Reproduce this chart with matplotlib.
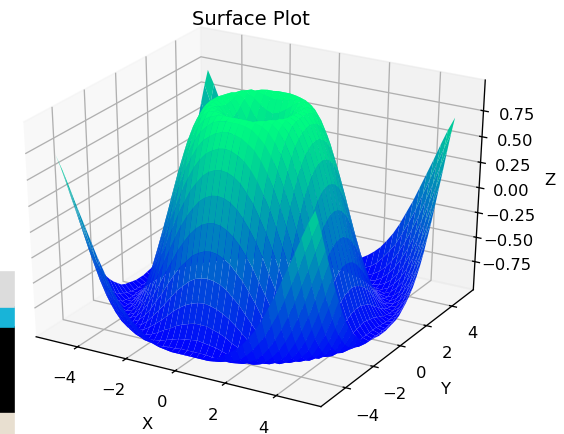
import numpy as np
import matplotlib
matplotlib.use("Agg")
import matplotlib.pyplot as plt
from matplotlib.patches import Rectangle

# Grid positions along x and y
grid_vals = np.arange(-5, 5.25, 0.25)
z_ticks = [-0.75, -0.50, -0.25, 0.00, 0.25, 0.50, 0.75]

# Surface heights, for one corner of the plot.
# Row i, column j: distance i and j grid steps from the centre (j <= i).
z_rows = [
    [0.00],
    [0.25, 0.35],
    [0.48, 0.53, 0.65],
    [0.68, 0.71, 0.78, 0.87],
    [0.84, 0.86, 0.90, 0.95, 0.99],
    [0.95, 0.96, 0.97, 0.99, 1.00, 0.98],
    [1.00, 1.00, 1.00, 0.99, 0.97, 0.93, 0.85],
    [0.98, 0.98, 0.97, 0.95, 0.90, 0.84, 0.74, 0.62],
    [0.91, 0.90, 0.88, 0.84, 0.79, 0.71, 0.60, 0.47, 0.31],
    [0.78, 0.77, 0.74, 0.70, 0.63, 0.54, 0.42, 0.29, 0.13, -0.04],
    [0.60, 0.59, 0.56, 0.51, 0.43, 0.34, 0.22, 0.09, -0.06, -0.22, -0.38],
    [0.38, 0.37, 0.34, 0.29, 0.21, 0.12, 0.01, -0.12, -0.26, -0.40, -0.54, -0.68],
    [0.14, 0.13, 0.10, 0.05, -0.02, -0.11, -0.21, -0.33, -0.45, -0.57, -0.69, -0.80, -0.89],
    [-0.11, -0.12, -0.15, -0.19, -0.26, -0.33, -0.42, -0.52, -0.63, -0.72, -0.82, -0.90, -0.96, -0.99],
    [-0.35, -0.36, -0.38, -0.42, -0.48, -0.54, -0.62, -0.70, -0.78, -0.85, -0.92, -0.97, -0.99, -1.00, -0.97],
    [-0.57, -0.58, -0.60, -0.63, -0.67, -0.72, -0.78, -0.84, -0.89, -0.94, -0.98, -1.00, -1.00, -0.97, -0.91, -0.83],
    [-0.76, -0.76, -0.78, -0.80, -0.83, -0.87, -0.90, -0.94, -0.97, -0.99, -1.00, -0.99, -0.96, -0.91, -0.83, -0.72, -0.59],
    [-0.89, -0.90, -0.91, -0.92, -0.94, -0.96, -0.98, -0.99, -1.00, -1.00, -0.98, -0.94, -0.88, -0.80, -0.70, -0.58, -0.43, -0.27],
    [-0.98, -0.98, -0.98, -0.99, -0.99, -1.00, -1.00, -0.99, -0.98, -0.95, -0.91, -0.85, -0.77, -0.67, -0.55, -0.41, -0.26, -0.09, 0.08],
    [-1.00, -1.00, -1.00, -1.00, -0.99, -0.98, -0.96, -0.94, -0.91, -0.86, -0.79, -0.71, -0.62, -0.50, -0.37, -0.23, -0.07, 0.09, 0.26, 0.42],
    [-0.96, -0.96, -0.95, -0.94, -0.93, -0.91, -0.87, -0.83, -0.78, -0.72, -0.64, -0.55, -0.44, -0.31, -0.18, -0.03, 0.12, 0.27, 0.43, 0.58, 0.71],
]

# Fill the corner table, then mirror it to the other three corners
n = len(z_rows)
corner = np.zeros((n, n))
for i, row in enumerate(z_rows):
    for j, value in enumerate(row):
        corner[i, j] = value
        corner[j, i] = value
top = np.hstack([corner[:, :0:-1], corner])
Z = np.vstack([top[:0:-1], top])

X, Y = np.meshgrid(grid_vals, grid_vals)

fig = plt.figure(figsize=(564 / 118, 434 / 118), dpi=118)
ax = fig.add_axes([-0.045, 0.03, 0.98, 0.948], projection="3d")
# Let the 3D box stretch to fill the axes, not stay square
ax.apply_aspect = lambda position=None: None
ax.set_box_aspect((1, 1, 1), zoom=1.0)
ax.plot_surface(X, Y, Z, rstride=1, cstride=1, cmap="winter")
ax.set_title("Surface Plot", y=1.02)
ax.set_xlabel("X")
ax.set_ylabel("Y")
ax.set_zlabel("Z")
ax.set_zticks(z_ticks)

# Piece of another window showing at the bottom left of the screenshot
fig.add_artist(Rectangle((0, 0), 14 / 564, 22 / 434, transform=fig.transFigure, color="#e8dfd0"))
fig.add_artist(Rectangle((0, 22 / 434), 14 / 564, 85 / 434, transform=fig.transFigure, color="black"))
fig.add_artist(Rectangle((0, 107 / 434), 14 / 564, 20 / 434, transform=fig.transFigure, color="#18b4d8"))
fig.add_artist(Rectangle((0, 127 / 434), 14 / 564, 35 / 434, transform=fig.transFigure, color="#dcdcdc"))

plt.savefig("out.png")
